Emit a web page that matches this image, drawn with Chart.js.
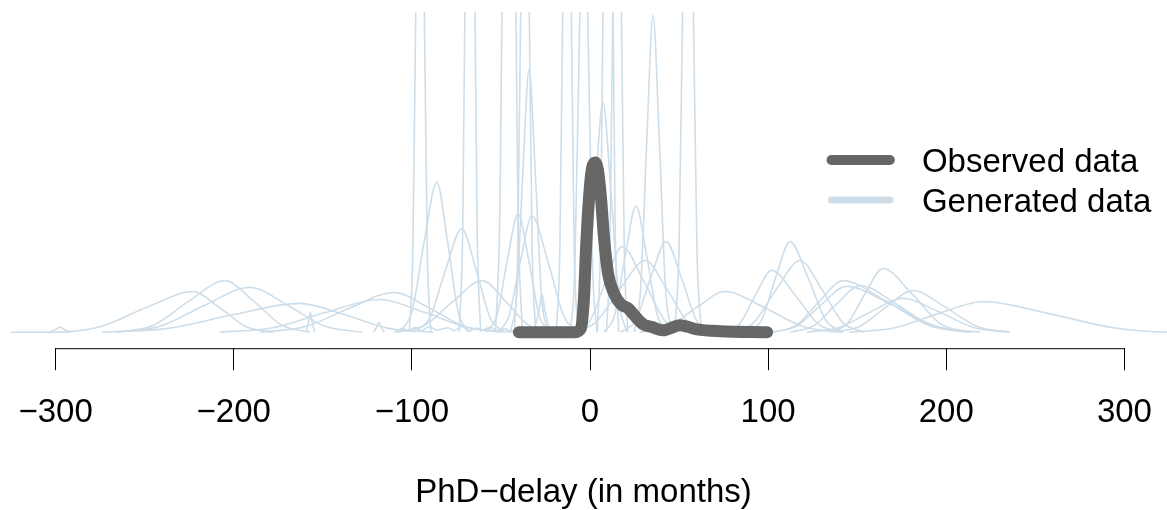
<!DOCTYPE html>
<html>
<head>
<meta charset="utf-8">
<title>PhD-delay</title>
<script src="https://cdn.jsdelivr.net/npm/chart.js@4.4.1/dist/chart.umd.min.js"></script>
<style>
    html, body { margin: 0; padding: 0; background: #fff; }
    .canvas-container { width: 1167px; height: 510px; position: relative; }
</style>
</head>
<body>
<div class="canvas-container"><canvas id="delay_graph"></canvas></div>
<script>
// x axis ticks (months)
const tickValues = [-300, -200, -100, 0, 100, 200, 300];

// observed PhD-delay density
const observedX = [-39.9, -8.4, -5.1, -3.4, -2.2, -0.6, 1.1, 2.8, 4.5, 6.2, 7.9, 10.1, 13.5, 17.4, 21.3, 25.3, 29.8, 34.8, 41, 50.5, 60, 73, 99.4];
const observedY = [0, 0, 0.0012, 0.0106, 0.0262, 0.0417, 0.0511, 0.053, 0.0505, 0.0417, 0.0293, 0.0184, 0.0121, 0.0087, 0.0075, 0.005, 0.0025, 0.0016, 0.0006, 0.0022, 0.0009, 0.0003, 0];

// generated data sets, one density per set: [months, density]
const generatedCurves = [
    [[-325, 0], [-301, 0], [-275, 0.0017], [-249, 0.0077], [-223, 0.0127], [-208, 0.0077], [-193, 0.0017], [-178, 0]],
    [[-265, 0], [-245, 0.0022], [-225, 0.0098], [-205, 0.0161], [-189, 0.0098], [-173, 0.0022], [-157, 0]],
    [[-266, 0], [-241, 0.0019], [-216, 0.0085], [-191, 0.014], [-170, 0.0085], [-149, 0.0019], [-128, 0]],
    [[-274, 0], [-237, 0.0012], [-200, 0.0055], [-163, 0.009], [-138, 0.0055], [-113, 0.0012], [-88, 0]],
    [[-185, 0], [-160, 0.0017], [-135, 0.0075], [-110, 0.0124], [-90, 0.0075], [-70, 0.0017], [-50, 0]],
    [[-208, 0], [-178, 0.0014], [-148, 0.0062], [-118, 0.0102], [-93, 0.0062], [-68, 0.0014], [-43, 0]],
    [[-101.4, 0], [-99.4, 0.027], [-97.4, 0.121], [-95.4, 0.2], [-93.4, 0.121], [-91.4, 0.027], [-89.4, 0]],
    [[-107, 0], [-100, 0.0063], [-93, 0.0285], [-86, 0.0469], [-80, 0.0285], [-74, 0.0063], [-68, 0]],
    [[-99, 0], [-90, 0.0044], [-81, 0.0196], [-72, 0.0323], [-64, 0.0196], [-56, 0.0044], [-48, 0]],
    [[-73.4, 0], [-71.4, 0.034], [-69.4, 0.152], [-67.4, 0.25], [-65.4, 0.152], [-63.4, 0.034], [-61.4, 0]],
    [[-108.6, 0], [-92.6, 0.0022], [-76.6, 0.0098], [-60.6, 0.0161], [-47.6, 0.0098], [-34.6, 0.0022], [-21.6, 0]],
    [[-53, 0], [-50.5, 0.041], [-48, 0.182], [-45.5, 0.3], [-43, 0.182], [-40.5, 0.041], [-38, 0]],
    [[-42.5, 0], [-40.5, 0.027], [-38.5, 0.121], [-36.5, 0.2], [-34.5, 0.121], [-32.5, 0.027], [-30.5, 0]],
    [[-44.7, 0], [-41.2, 0.0111], [-37.7, 0.0498], [-34.2, 0.082], [-30.7, 0.0498], [-27.2, 0.0111], [-23.7, 0]],
    [[-58.4, 0], [-52.4, 0.005], [-46.4, 0.0225], [-40.4, 0.037], [-34.4, 0.0225], [-28.4, 0.005], [-22.4, 0]],
    [[-52.1, 0], [-45.6, 0.0049], [-39.1, 0.022], [-32.6, 0.0363], [-23.6, 0.022], [-14.6, 0.0049], [-5.6, 0]],
    [[-18.9, 0], [-16.9, 0.027], [-14.9, 0.121], [-12.9, 0.2], [-10.9, 0.121], [-8.9, 0.027], [-6.9, 0]],
    [[-11, 0], [-8.5, 0.02], [-6, 0.091], [-3.5, 0.15], [-1, 0.091], [1.5, 0.02], [4, 0]],
    [[-6.2, 0], [-1.7, 0.0097], [2.8, 0.0435], [7.3, 0.0717], [11.8, 0.0435], [16.3, 0.0097], [20.8, 0]],
    [[4.1, 0], [6.1, 0.034], [8.1, 0.152], [10.1, 0.25], [12.1, 0.152], [14.1, 0.034], [16.1, 0]],
    [[9.2, 0], [11.2, 0.027], [13.2, 0.121], [15.2, 0.2], [17.2, 0.121], [19.2, 0.027], [21.2, 0]],
    [[24.9, 0], [28.4, 0.0134], [31.9, 0.0601], [35.4, 0.099], [38.9, 0.0601], [42.4, 0.0134], [45.9, 0]],
    [[47.5, 0], [50, 0.027], [52.5, 0.121], [55, 0.2], [57.5, 0.121], [60, 0.027], [62.5, 0]],
    [[7.8, 0], [13.8, 0.0053], [19.8, 0.0239], [25.8, 0.0394], [31.8, 0.0239], [37.8, 0.0053], [43.8, 0]],
    [[-9, 0], [0, 0.0036], [9, 0.0162], [18, 0.0267], [30, 0.0162], [42, 0.0036], [54, 0]],
    [[-11, 0], [3, 0.003], [17, 0.0136], [31, 0.0224], [43, 0.0136], [55, 0.003], [67, 0]],
    [[17.2, 0], [25.7, 0.0038], [34.2, 0.0172], [42.7, 0.0283], [51.2, 0.0172], [59.7, 0.0038], [68.2, 0]],
    [[27.8, 0], [43.8, 0.0017], [59.8, 0.0077], [75.8, 0.0127], [97.8, 0.0077], [119.8, 0.0017], [141.8, 0]],
    [[75, 0], [84, 0.0026], [93, 0.0117], [102, 0.0193], [115, 0.0117], [128, 0.0026], [141, 0]],
    [[88.3, 0], [96.3, 0.0038], [104.3, 0.0172], [112.3, 0.0283], [122.3, 0.0172], [132.3, 0.0038], [142.3, 0]],
    [[78.9, 0], [91.9, 0.003], [104.9, 0.0136], [117.9, 0.0224], [129.9, 0.0136], [141.9, 0.003], [153.9, 0]],
    [[103, 0], [116, 0.0022], [129, 0.0098], [142, 0.0161], [166, 0.0098], [190, 0.0022], [214, 0]],
    [[102, 0], [116, 0.0019], [130, 0.0087], [144, 0.0143], [169, 0.0087], [194, 0.0019], [219, 0]],
    [[112.6, 0], [125.6, 0.002], [138.6, 0.0089], [151.6, 0.0146], [171.6, 0.0089], [191.6, 0.002], [211.6, 0]],
    [[134.5, 0], [144.5, 0.0027], [154.5, 0.0121], [164.5, 0.0199], [180.5, 0.0121], [196.5, 0.0027], [212.5, 0]],
    [[136.3, 0], [151.3, 0.0018], [166.3, 0.0079], [181.3, 0.013], [199.3, 0.0079], [217.3, 0.0018], [235.3, 0]],
    [[121.7, 0], [139.7, 0.0014], [157.7, 0.0064], [175.7, 0.0106], [195.7, 0.0064], [215.7, 0.0014], [235.7, 0]],
    [[145.6, 0], [170.6, 0.0013], [195.6, 0.0058], [220.6, 0.0096], [257.6, 0.0058], [294.6, 0.0013], [325, 0], [335, 0]],
    [[-159.4, 0], [-157.8, 0.0038], [-157, 0.0062], [-156.2, 0.0038], [-154.6, 0]],
    [[-121.5, 0], [-119.5, 0.0019], [-118.5, 0.0031], [-117.5, 0.0019], [-115.5, 0]],
    [[-303.5, 0], [-299.5, 0.001], [-297.5, 0.0016], [-295.5, 0.001], [-291.5, 0]],
    [[-31.5, 0], [-28.5, 0.0073], [-27, 0.012], [-25.5, 0.0073], [-22.5, 0]],
    [[-110, 0], [-105, 0.0012], [-102, 0.0003], [-98, 0.0015], [-95, 0.0004], [-90, 0.0018], [-86, 0.0006], [-80, 0.0014], [-76, 0.0005], [-72, 0.0019], [-68, 0.0004], [-64, 0.0013], [-60, 0.0007], [-56, 0.0016], [-52, 0.0005], [-48, 0.0011], [-44, 0.0003], [-40, 0.0012], [-35, 0.0004], [-30, 0.0009], [-25, 0]]
];

const seriesLabels = ['Observed data', 'Generated data'];
const seriesColors = ['#666666', '#cddeea'];

const fontFamily = '"Liberation Sans", Arial, sans-serif';

function formatTick(value) {
    return value < 0 ? '\u2212' + Math.abs(value) : String(value);
}

// R style axis: line only from first to last tick
const axisLine = {
    id: 'axisLine',
    afterDraw(chart) {
        const ctx = chart.ctx;
        const x = chart.scales.x;
        const y = chart.chartArea.bottom;
        ctx.save();
        ctx.strokeStyle = '#000';
        ctx.lineWidth = 1;
        ctx.beginPath();
        ctx.moveTo(x.getPixelForValue(tickValues[0]), y + 0.5);
        ctx.lineTo(x.getPixelForValue(tickValues[tickValues.length - 1]), y + 0.5);
        ctx.stroke();
        ctx.restore();
    }
};

// legend inside the plot, top right
const plotLegend = {
    id: 'plotLegend',
    afterDraw(chart) {
        const ctx = chart.ctx;
        const w = chart.width;
        const widths = [10, 7];
        const rows = [160, 200];
        ctx.save();
        seriesLabels.forEach(function (label, i) {
            ctx.strokeStyle = seriesColors[i];
            ctx.lineWidth = widths[i];
            ctx.lineCap = 'round';
            ctx.beginPath();
            ctx.moveTo(w * 0.7125, rows[i]);
            ctx.lineTo(w * 0.7625, rows[i]);
            ctx.stroke();
            ctx.fillStyle = '#000';
            ctx.font = '33px ' + fontFamily;
            ctx.textBaseline = 'alphabetic';
            ctx.fillText(label, w * 0.79, rows[i] + 12);
        });
        ctx.restore();
    }
};

const datasets = [{
    label: seriesLabels[0],
    data: observedX.map(function (x, i) { return { x: x, y: observedY[i] }; }),
    borderColor: seriesColors[0],
    borderWidth: 12,
    borderCapStyle: 'round',
    borderJoinStyle: 'round',
    pointRadius: 0,
    cubicInterpolationMode: 'monotone',
    fill: false
}].concat(generatedCurves.map(function (curve) {
    return {
        label: seriesLabels[1],
        data: curve.map(function (p) { return { x: p[0], y: p[1] }; }),
        borderColor: seriesColors[1],
        borderWidth: 1.6,
        pointRadius: 0,
        cubicInterpolationMode: 'monotone',
        fill: false
    };
}));

const delayGraph = document.getElementById('delay_graph');
new Chart(delayGraph, {
    type: 'line',
    data: { datasets: datasets },
    plugins: [axisLine, plotLegend],
    options: {
        responsive: true,
        maintainAspectRatio: false,
        animation: false,
        layout: { padding: { top: 12, left: 0, right: 0, bottom: 0 } },
        plugins: {
            legend: { display: false },
            tooltip: { enabled: false }
        },
        scales: {
            x: {
                type: 'linear',
                min: -331.2,
                max: 323.9,
                afterBuildTicks: function (axis) {
                    axis.ticks = tickValues.map(function (v) { return { value: v }; });
                },
                grid: {
                    drawOnChartArea: false,
                    drawTicks: true,
                    tickLength: 22,
                    color: '#000',
                    lineWidth: 1
                },
                border: { display: false },
                ticks: {
                    color: '#000',
                    font: { family: fontFamily, size: 33, lineHeight: 2.6 },
                    padding: 0,
                    maxRotation: 0,
                    autoSkip: false,
                    callback: function (value) { return formatTick(value); }
                },
                title: {
                    display: true,
                    text: 'PhD\u2212delay (in months)',
                    color: '#000',
                    font: { family: fontFamily, size: 33, lineHeight: 1 },
                    padding: { top: 20, bottom: 1 }
                }
            },
            y: {
                display: false,
                min: -0.005,
                max: 0.1
            }
        }
    }
});
</script>
</body>
</html>
